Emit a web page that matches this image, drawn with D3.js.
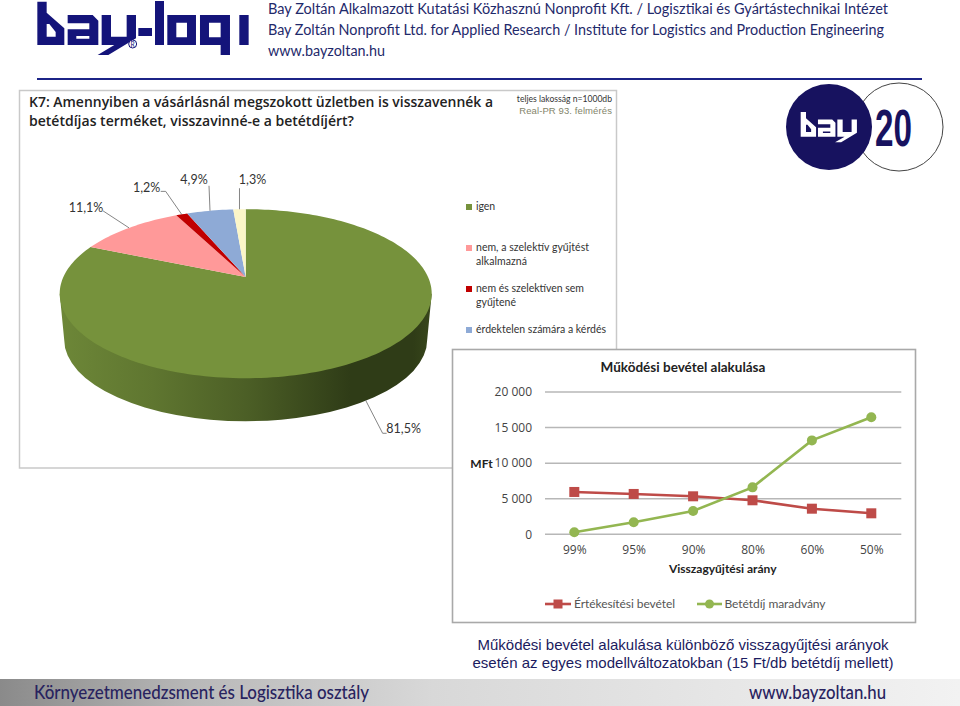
<!DOCTYPE html>
<html>
<head>
<meta charset="utf-8">
<script src="https://cdn.jsdelivr.net/npm/d3@7"></script>
<style>
  html, body { margin: 0; padding: 0; background: #fff; }
  svg { display: block; }
  text { font-family: Lato, "Open Sans", sans-serif; }
  .head { fill: #1f2a6b; font-size: 14.5px; }
  .foot { fill: #28235f; font-size: 19px; font-weight: 500; }
  .axis text { font-family: "Open Sans", sans-serif; font-size: 12px; fill: #444; }
</style>
</head>
<body>
<svg id="chart" width="960" height="706"></svg>
<script>
// survey pie
const pieLabels = ["igen", "nem, a szelektív gyűjtést alkalmazná", "nem és szelektíven sem gyűjtené", "érdektelen számára a kérdés", "egyéb"];
const pieValues = [81.5, 11.1, 1.2, 4.9, 1.3];
const pieTexts = ["81,5%", "11,1%", "1,2%", "4,9%", "1,3%"];

// line chart
const rates = ["99%", "95%", "90%", "80%", "60%", "50%"];
const salesRevenue = [5950, 5670, 5340, 4780, 3600, 2950];
const depositLeft = [280, 1690, 3280, 6600, 13200, 16440];
const yTicks = [0, 5000, 10000, 15000, 20000];

const colorsPie = ["#76923c", "#ff9999", "#c00000", "#8eaad6", "#fbf6c8"],
  colorRed = "#be4b48",
  colorGreen = "#93b651",
  navy = "#14147a";

const svg = d3.select("#chart");
const defs = svg.append("defs");

function gradient(id, stops) {
  const g = defs.append("linearGradient").attr("id", id);
  stops.forEach(s => g.append("stop").attr("offset", s[0]).attr("stop-color", s[1]));
}
gradient("side", [[0, "#6d8738"], [0.25, "#5f7630"], [0.5, "#4c5f26"], [0.78, "#2f3c17"], [0.95, "#2f3c17"], [1, "#38471b"]]);
gradient("foot", [[0, "#8a8a8a"], [0.2, "#b8b8b8"], [0.45, "#d8d8d8"], [1, "#f2f2f2"]]);

// ---- header
const bayPolys = [
  // b
  "M22 5H50V38L103 85V135H22Z M50 72V110H77V96L58 72Z",
  // a
  "M113 45H188L205 62V135H113V88H178V70H113Z M139 108V116H178V108Z",
  // y
  "M215 45H243V110H290V45H318V115L235 165H203L253 135H215Z"
];
const logoPolys = bayPolys.concat([
  "M325 84H366V108H325Z",
  "M375 3H402V135H375Z",
  "M412 45H498V135H412Z M439 68V112H471V68Z",
  "M510 45H600V165H572V135H510Z M537 68V112H572V68Z",
  "M628 45H656V135H628Z"
]);

const logo = svg.append("g").attr("transform", "translate(30,0) scale(0.3333)");
logo.selectAll("path").data(logoPolys).enter().append("path")
  .attr("d", d => d).attr("fill", navy).attr("fill-rule", "evenodd");
logo.append("circle").attr("cx", 308).attr("cy", 132).attr("r", 12)
  .attr("fill", "#fff").attr("stroke", navy).attr("stroke-width", 3);
logo.append("text").attr("x", 308).attr("y", 140).attr("text-anchor", "middle")
  .attr("fill", navy).style("font-size", "20px").text("R");

const headLines = [
  ["Bay Zoltán Alkalmazott Kutatási Közhasznú Nonprofit Kft. / Logisztikai és Gyártástechnikai Intézet", 14, 620],
  ["Bay Zoltán Nonprofit Ltd. for Applied Research / Institute for Logistics and Production Engineering", 34.5, 616],
  ["www.bayzoltan.hu", 56, 117]
];
svg.selectAll(".head").data(headLines).enter().append("text")
  .attr("class", "head").attr("x", 268).attr("y", d => d[1])
  .attr("textLength", d => d[2]).attr("lengthAdjust", "spacingAndGlyphs").text(d => d[0]);

svg.append("line").attr("x1", 37).attr("x2", 922).attr("y1", 79).attr("y2", 79)
  .attr("stroke", "#1c2487").attr("stroke-width", 2);

// bay 20 badge
svg.append("circle").attr("cx", 899).attr("cy", 127).attr("r", 44)
  .attr("fill", "#fff").attr("stroke", "#444").attr("stroke-width", 1);
svg.append("circle").attr("cx", 829).attr("cy", 127).attr("r", 43).attr("fill", "#17125f");
svg.append("g").attr("transform", "translate(796.5,111) scale(0.19)")
  .selectAll("path").data(bayPolys).enter().append("path")
  .attr("d", d => d).attr("fill", "#fff").attr("fill-rule", "evenodd");
svg.append("text").attr("x", 875).attr("y", 146).attr("textLength", 37).attr("lengthAdjust", "spacingAndGlyphs")
  .attr("fill", "#17125f").style("font-family", "'Liberation Sans'").style("font-weight", 700)
  .style("font-size", "52px").text("20");

// ---- pie box
svg.append("rect").attr("x", 19.5).attr("y", 90.5).attr("width", 597).attr("height", 377.5)
  .attr("fill", "#fff").attr("stroke", "#c9c9c9").attr("stroke-width", 1.5);

svg.selectAll(".question").data([
  ["K7: Amennyiben a vásárlásnál megszokott üzletben is visszavennék a", 107, 464],
  ["betétdíjas terméket, visszavinné-e a betétdíjért?", 125.5, 325]
]).enter().append("text").attr("class", "question")
  .attr("x", 29).attr("y", d => d[1]).attr("textLength", d => d[2]).attr("lengthAdjust", "spacingAndGlyphs")
  .attr("fill", "#222").style("font-family", "'Open Sans'").style("font-weight", 600).style("font-size", "14px").text(d => d[0]);

svg.append("text").attr("x", 612).attr("y", 102).attr("text-anchor", "end")
  .attr("fill", "#333").style("font-size", "8.6px").text("teljes lakosság n=1000db");
svg.append("text").attr("x", 612).attr("y", 114).attr("text-anchor", "end")
  .attr("fill", "#83846a").style("font-family", "'Liberation Sans'").style("font-size", "9.5px")
  .style("letter-spacing", "0.1px").text("Real-PR 93. felmérés");

// ---- 3d pie, perspective is a projective map of the unit circle
const cx = 245.7, cy = 293.7, rx = 186, ry = 84.5, depth = 42, tilt = -0.198;

function project(angle, r = 1) {
  const u = r * Math.sin(angle), v = -r * Math.cos(angle);
  const w = 1 + tilt * v;
  return [cx + rx * u * Math.sqrt(1 - tilt * tilt) / w, cy + ry * (v + tilt) / w];
}

const arcs = d3.pie().sort(null)(pieValues);
const lineGen = d3.line();

function slicePath(d) {
  const steps = Math.max(2, Math.ceil((d.endAngle - d.startAngle) * 40));
  const rim = d3.range(steps + 1).map(i => project(d.startAngle + (d.endAngle - d.startAngle) * i / steps));
  return lineGen([project(0, 0)].concat(rim)) + "Z";
}

const pie = svg.append("g");
pie.append("path")
  .attr("d", `M${cx - rx},${cy}L${cx - rx + 4.5},${cy + depth + 4}A${rx - 4.5},${ry - 3} 0 0 0 ${cx + rx - 4.5},${cy + depth + 4}L${cx + rx},${cy}Z`)
  .attr("fill", "url(#side)");
pie.selectAll(".slice").data(arcs).enter().append("path")
  .attr("class", "slice").attr("d", slicePath).attr("fill", (d, i) => colorsPie[i]);

// label offsets from the rim point of each slice
const labelOffsets = [
  { dy: depth, pts: [[17, 33], [21, 33]], tx: 38, ty: 33 },
  { dy: 0, pts: [[-26, -17]], tx: -43, ty: -16 },
  { dy: 0, pts: [[-16, -23], [-21, -23]], tx: -35, ty: -22 },
  { dy: 0, pts: [[-1, -25]], tx: -16, ty: -27 },
  { dy: 0, pts: [[0, -21]], tx: 13, ty: -25 }
];

arcs.forEach((d, i) => {
  const p = project((d.startAngle + d.endAngle) / 2), o = labelOffsets[i];
  const start = [p[0], p[1] + o.dy];
  pie.append("path")
    .attr("d", lineGen([start].concat(o.pts.map(q => [start[0] + q[0], start[1] + q[1]]))))
    .attr("fill", "none").attr("stroke", "#666").attr("stroke-width", 0.8);
  pie.append("text").attr("x", start[0] + o.tx).attr("y", start[1] + o.ty)
    .attr("text-anchor", "middle").attr("fill", "#333").style("font-size", "12.5px").text(pieTexts[i]);
});

// pie legend, the last slice has no entry in the original
const legendRows = [
  { y: 204, lines: [["igen", 19]] },
  { y: 245, lines: [["nem, a szelektív gyűjtést", 113], ["alkalmazná", 51]] },
  { y: 286, lines: [["nem és szelektíven sem", 108], ["gyűjtené", 40]] },
  { y: 327, lines: [["érdektelen számára a kérdés", 130]] }
];
legendRows.forEach((row, i) => {
  svg.append("rect").attr("x", 466).attr("y", row.y).attr("width", 6).attr("height", 6).attr("fill", colorsPie[i]);
  row.lines.forEach((t, j) => {
    svg.append("text").attr("x", 476).attr("y", row.y + 6 + j * 14)
      .attr("textLength", t[1]).attr("lengthAdjust", "spacing")
      .attr("fill", "#333").style("font-size", "10.5px").text(t[0]);
  });
});

// ---- line chart
svg.append("rect").attr("x", 452.5).attr("y", 349.5).attr("width", 463).attr("height", 273)
  .attr("fill", "#fff").attr("stroke", "#a9a9a9").attr("stroke-width", 1.6);

const x = d3.scalePoint().domain(rates).range([574.3, 871.3]);
const y = d3.scaleLinear().domain([0, 20000]).range([534.3, 392]);
const fmt = d3.formatLocale({ thousands: " ", grouping: [3], decimal: ",", currency: ["", ""] }).format(",");

const yAxis = svg.append("g").attr("class", "axis").attr("transform", "translate(545,0)")
  .call(d3.axisLeft(y).tickValues(yTicks).tickFormat(fmt).tickSize(0).tickPadding(13));
yAxis.select(".domain").remove();
svg.append("g").selectAll("line").data(yTicks).enter().append("line")
  .attr("x1", 545).attr("x2", 901.3).attr("y1", d => y(d)).attr("y2", d => y(d))
  .attr("stroke", "#b7b7b7").attr("stroke-width", 1.5);

const xAxis = svg.append("g").attr("class", "axis").attr("transform", "translate(0,534.3)")
  .call(d3.axisBottom(x).tickSize(0).tickPadding(11));
xAxis.select(".domain").remove();

const line = d3.line().x((d, i) => x(rates[i])).y(d => y(d));
[[salesRevenue, colorRed], [depositLeft, colorGreen]].forEach(s => {
  svg.append("path").datum(s[0]).attr("d", line)
    .attr("fill", "none").attr("stroke", s[1]).attr("stroke-width", 2.6);
});
svg.selectAll(".sq").data(salesRevenue).enter().append("rect").attr("class", "sq")
  .attr("x", (d, i) => x(rates[i]) - 5).attr("y", d => y(d) - 5)
  .attr("width", 10).attr("height", 10).attr("fill", colorRed);
svg.selectAll(".dot").data(depositLeft).enter().append("circle").attr("class", "dot")
  .attr("cx", (d, i) => x(rates[i])).attr("cy", d => y(d)).attr("r", 5).attr("fill", colorGreen);

svg.append("text").attr("x", 683).attr("y", 372).attr("text-anchor", "middle")
  .attr("fill", "#222").style("font-weight", 700).style("font-size", "13.5px").text("Működési bevétel alakulása");
svg.append("text").attr("x", 481.5).attr("y", 468).attr("text-anchor", "middle")
  .attr("fill", "#222").style("font-weight", 700).style("font-size", "12px").text("MFt");
svg.append("text").attr("x", 722.7).attr("y", 573).attr("text-anchor", "middle")
  .attr("fill", "#222").style("font-weight", 700).style("font-size", "12px").text("Visszagyűjtési arány");

svg.append("line").attr("x1", 545).attr("x2", 571).attr("y1", 604).attr("y2", 604).attr("stroke", colorRed).attr("stroke-width", 2.6);
svg.append("rect").attr("x", 553.5).attr("y", 599.5).attr("width", 9).attr("height", 9).attr("fill", colorRed);
svg.append("line").attr("x1", 697).attr("x2", 722).attr("y1", 604).attr("y2", 604).attr("stroke", colorGreen).attr("stroke-width", 2.6);
svg.append("circle").attr("cx", 709.5).attr("cy", 604).attr("r", 4.5).attr("fill", colorGreen);
svg.append("text").attr("x", 574).attr("y", 608).attr("textLength", 101).attr("fill", "#555").style("font-size", "12px").text("Értékesítési bevétel");
svg.append("text").attr("x", 724.5).attr("y", 608).attr("textLength", 101).attr("fill", "#555").style("font-size", "12px").text("Betétdíj maradvány");

// ---- caption and footer
svg.selectAll(".caption").data([
  ["Működési bevétel alakulása különböző visszagyűjtési arányok", 650],
  ["esetén az egyes modellváltozatokban (15 Ft/db betétdíj mellett)", 668]
]).enter().append("text").attr("class", "caption")
  .attr("x", 683).attr("y", d => d[1]).attr("text-anchor", "middle").attr("fill", "#1b1b60")
  .style("font-family", "'Liberation Sans'").style("font-size", "15px").text(d => d[0]);

svg.append("rect").attr("x", 0).attr("y", 679).attr("width", 960).attr("height", 27).attr("fill", "url(#foot)");
svg.append("text").attr("class", "foot").attr("x", 34).attr("y", 699)
  .attr("textLength", 335).attr("lengthAdjust", "spacingAndGlyphs").text("Környezetmenedzsment és Logisztika osztály");
svg.append("text").attr("class", "foot").attr("x", 749).attr("y", 699)
  .attr("textLength", 137).attr("lengthAdjust", "spacingAndGlyphs").text("www.bayzoltan.hu");
</script>
</body>
</html>
